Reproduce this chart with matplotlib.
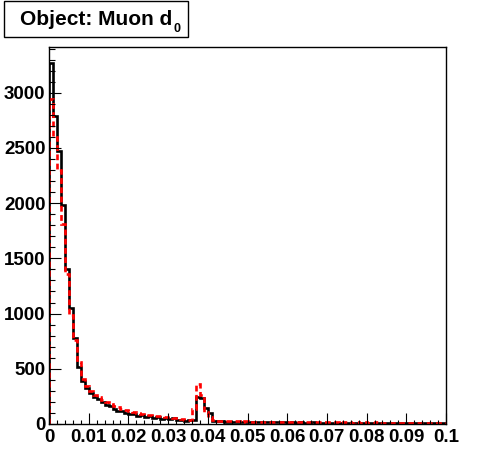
import numpy as np
import matplotlib
matplotlib.use("Agg")
import matplotlib.pyplot as plt
from matplotlib.patches import Rectangle
from matplotlib.ticker import MultipleLocator, FixedLocator, FixedFormatter

# ---- data ----
bin_lo = 0.0
bin_hi = 0.1
n_bins = 100
black = [3270, 2790, 2470, 1980, 1400, 1050, 780, 515, 385, 330,
         280, 240, 225, 200, 175, 160, 140, 120, 120, 100,
         95, 90, 75, 80, 60, 70, 55, 60, 45, 55,
         45, 50, 40, 35, 30, 32, 36, 243, 237, 143,
         97, 30, 25, 25, 22, 20, 22, 20, 18, 20,
         18, 16, 20, 15, 18, 14, 16, 15, 14, 16,
         13, 15, 12, 14, 13, 12, 14, 11, 12, 13,
         11, 12, 10, 12, 11, 10, 12, 9, 11, 10,
         9, 11, 10, 9, 10, 8, 10, 9, 8, 9,
         8, 9, 8, 7, 8, 7, 8, 7, 6, 7]
red = [2945, 2600, 2300, 1815, 1355, 990, 765, 560, 410, 345,
       295, 265, 240, 215, 195, 185, 165, 150, 140, 125,
       115, 105, 100, 90, 85, 80, 75, 75, 70, 65,
       60, 58, 52, 45, 40, 38, 140, 364, 264, 110,
       60, 32, 28, 30, 26, 25, 24, 25, 22, 23,
       20, 22, 21, 19, 21, 18, 20, 18, 19, 17,
       18, 16, 18, 15, 17, 16, 15, 17, 14, 16,
       15, 14, 16, 13, 15, 14, 13, 15, 12, 14,
       13, 12, 14, 12, 13, 11, 13, 12, 11, 12,
       11, 12, 10, 11, 12, 10, 11, 10, 9, 10]
x_tick_vals = [0, 0.01, 0.02, 0.03, 0.04, 0.05, 0.06, 0.07, 0.08, 0.09, 0.1]
x_tick_labels = ["0", "0.01", "0.02", "0.03", "0.04", "0.05", "0.06",
                 "0.07", "0.08", "0.09", "0.1"]
y_tick_vals = [0, 500, 1000, 1500, 2000, 2500, 3000]
title_main = "Object: Muon d"
title_sub = "0"

# ---- figure ----
W, H = 496, 472
fig = plt.figure(figsize=(W / 100, H / 100), dpi=100)
fig.patch.set_facecolor("white")
fnt = "Liberation Sans"

L, R, T, B = 49, 446, 47.3, 424
ax = fig.add_axes([L / W, 1 - B / H, (R - L) / W, (B - T) / H])
edges = np.linspace(bin_lo, bin_hi, n_bins + 1)
ax.stairs(black, edges, color="black", lw=1.9, baseline=0)
ax.stairs(red, edges, color="red", lw=1.9, baseline=0, linestyle=(0, (2.2, 1.3)))

ax.set_xlim(bin_lo, bin_hi)
ax.set_ylim(0, 3411)

for s in ax.spines.values():
    s.set_linewidth(1.0)
    s.set_color("black")

ax.xaxis.set_major_locator(FixedLocator(x_tick_vals))
ax.xaxis.set_major_formatter(FixedFormatter(x_tick_labels))
ax.xaxis.set_minor_locator(MultipleLocator(0.002))
ax.yaxis.set_major_locator(FixedLocator(y_tick_vals))
ax.yaxis.set_minor_locator(MultipleLocator(100))

ax.tick_params(axis="x", which="major", direction="in", length=8, width=0.8,
               pad=3.5, top=False, labelsize=13.5)
ax.tick_params(axis="x", which="minor", direction="in", length=3, width=0.8, top=False)
ax.tick_params(axis="y", which="major", direction="in", length=8.6, width=0.8,
               pad=2.5, right=False, labelsize=13.5)
ax.tick_params(axis="y", which="minor", direction="in", length=4.3, width=0.8, right=False)
for lab in ax.get_xticklabels() + ax.get_yticklabels():
    lab.set_fontfamily(fnt)
    lab.set_fontweight("bold")

# title box
bx0, by0, bx1, by1 = 4, 1, 188, 37
fig.patches.append(Rectangle((bx0 / W, 1 - by1 / H), (bx1 - bx0) / W, (by1 - by0) / H,
                             transform=fig.transFigure, fill=False, lw=1.0,
                             edgecolor="black"))
t = fig.text(20 / W, 1 - 25 / H, title_main, fontsize=15, fontweight="bold",
             family=fnt, ha="left", va="baseline")
fig.canvas.draw()
bb = t.get_window_extent()
fig.text((bb.x1 + 1) / W, 1 - 32 / H, title_sub, fontsize=9,
         fontweight="bold", family=fnt, ha="left", va="baseline")

fig.savefig("out.png", dpi=100, facecolor="white")
